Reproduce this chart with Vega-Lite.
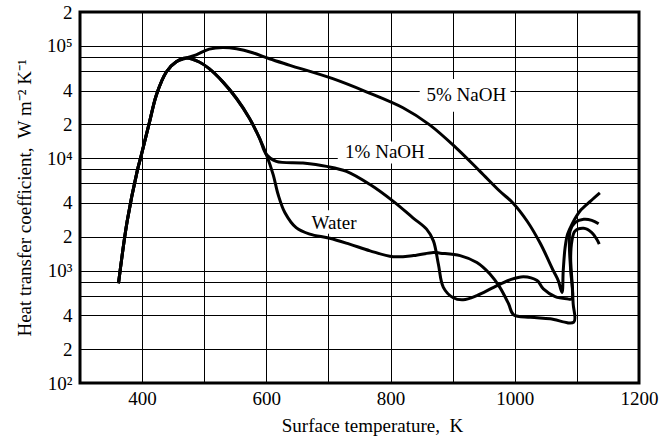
{
  "$schema": "https://vega.github.io/schema/vega-lite/v6.json",
  "width": 559,
  "height": 371,
  "autosize": "none",
  "padding": {"left": 80, "top": 12, "right": 24, "bottom": 54},
  "background": "white",
  "config": {
    "view": {"stroke": "black", "strokeWidth": 3},
    "font": "Liberation Serif"
  },
  "encoding": {
    "x": {
      "field": "T", "type": "quantitative",
      "scale": {"domain": [300, 1200], "nice": false},
      "axis": {
        "values": [300, 400, 500, 600, 700, 800, 900, 1000, 1100, 1200],
        "format": "d",
        "labelExpr": "datum.value % 200 == 0 ? datum.label : ''",
        "grid": true, "gridColor": "black", "gridOpacity": 1, "gridWidth": 1,
        "ticks": false, "domain": false,
        "labelFont": "Liberation Serif", "labelFontSize": 19, "labelColor": "black", "labelPadding": 6,
        "labelFlush": false, "labelOverlap": false,
        "title": "Surface temperature,\u00a0 K",
        "titleFont": "Liberation Serif", "titleFontSize": 19, "titleFontWeight": "normal", "titleColor": "black",
        "titlePadding": 8, "titleX": 292
      }
    },
    "y": {
      "field": "h", "type": "quantitative",
      "scale": {"type": "log", "domain": [100, 200000], "nice": false},
      "axis": {
        "values": [100, 200, 400, 600, 800, 1000, 2000, 4000, 6000, 8000, 10000, 20000, 40000, 60000, 80000, 100000, 200000],
        "labelExpr": "datum.value == 100 ? '10²' : datum.value == 1000 ? '10³' : datum.value == 10000 ? '10⁴' : datum.value == 100000 ? '10⁵' : indexof([200, 2000, 20000, 200000], datum.value) >= 0 ? '2' : indexof([400, 4000, 40000], datum.value) >= 0 ? '4' : ''",
        "grid": true, "gridColor": "black", "gridOpacity": 1, "gridWidth": 1,
        "ticks": false, "domain": false,
        "labelFont": "Liberation Serif", "labelFontSize": 19, "labelColor": "black", "labelPadding": 8,
        "labelFlush": false, "labelOverlap": false,
        "title": "Heat transfer coefficient,\u00a0 W m⁻² K⁻¹",
        "titleFont": "Liberation Serif", "titleFontSize": 19, "titleFontWeight": "normal", "titleColor": "black",
        "titlePadding": 12
      }
    }
  },
  "layer": [
    {
      "data": {"values": [
        {"label": "5% NaOH", "T": 847, "T2": 993, "h": 25900, "h2": 50800},
        {"label": "1% NaOH", "T": 715, "T2": 861, "h": 8990, "h2": 14100},
        {"label": "Water", "T": 670, "T2": 747, "h": 2130, "h2": 3450}
      ]},
      "mark": {"type": "rect", "fill": "white"},
      "encoding": {
        "x2": {"field": "T2"},
        "y2": {"field": "h2"}
      }
    },
    {
      "data": {"values": [
        {"s": "5% NaOH", "i": 1, "T": 362, "h": 771},
        {"s": "5% NaOH", "i": 2, "T": 376, "h": 2760},
        {"s": "5% NaOH", "i": 3, "T": 392, "h": 7640},
        {"s": "5% NaOH", "i": 4, "T": 398, "h": 10300},
        {"s": "5% NaOH", "i": 5, "T": 412, "h": 21100},
        {"s": "5% NaOH", "i": 6, "T": 423, "h": 36600},
        {"s": "5% NaOH", "i": 7, "T": 439, "h": 58500},
        {"s": "5% NaOH", "i": 8, "T": 455, "h": 72000},
        {"s": "5% NaOH", "i": 9, "T": 471, "h": 77800},
        {"s": "5% NaOH", "i": 10, "T": 487, "h": 83200},
        {"s": "5% NaOH", "i": 11, "T": 508, "h": 93500},
        {"s": "5% NaOH", "i": 12, "T": 530, "h": 96800},
        {"s": "5% NaOH", "i": 13, "T": 552, "h": 94200},
        {"s": "5% NaOH", "i": 14, "T": 578, "h": 86800},
        {"s": "5% NaOH", "i": 15, "T": 605, "h": 76700},
        {"s": "5% NaOH", "i": 16, "T": 638, "h": 67100},
        {"s": "5% NaOH", "i": 17, "T": 707, "h": 51000},
        {"s": "5% NaOH", "i": 18, "T": 761, "h": 39000},
        {"s": "5% NaOH", "i": 19, "T": 820, "h": 28100},
        {"s": "5% NaOH", "i": 20, "T": 863, "h": 19800},
        {"s": "5% NaOH", "i": 21, "T": 906, "h": 12300},
        {"s": "5% NaOH", "i": 22, "T": 944, "h": 7640},
        {"s": "5% NaOH", "i": 23, "T": 976, "h": 5080},
        {"s": "5% NaOH", "i": 24, "T": 997, "h": 4000},
        {"s": "5% NaOH", "i": 25, "T": 1020, "h": 2750},
        {"s": "5% NaOH", "i": 26, "T": 1041, "h": 1750},
        {"s": "5% NaOH", "i": 27, "T": 1062, "h": 1000},
        {"s": "5% NaOH", "i": 28, "T": 1070, "h": 815},
        {"s": "5% NaOH", "i": 29, "T": 1076, "h": 640},
        {"s": "5% NaOH", "i": 30, "T": 1078, "h": 998},
        {"s": "5% NaOH", "i": 31, "T": 1081, "h": 1600},
        {"s": "5% NaOH", "i": 32, "T": 1085, "h": 2110},
        {"s": "5% NaOH", "i": 33, "T": 1092, "h": 2580},
        {"s": "5% NaOH", "i": 34, "T": 1105, "h": 3390},
        {"s": "5% NaOH", "i": 35, "T": 1122, "h": 4150},
        {"s": "5% NaOH", "i": 36, "T": 1137, "h": 4910},

        {"s": "1% NaOH", "i": 1, "T": 362, "h": 771},
        {"s": "1% NaOH", "i": 2, "T": 376, "h": 2760},
        {"s": "1% NaOH", "i": 3, "T": 392, "h": 7640},
        {"s": "1% NaOH", "i": 4, "T": 398, "h": 10300},
        {"s": "1% NaOH", "i": 5, "T": 412, "h": 21100},
        {"s": "1% NaOH", "i": 6, "T": 423, "h": 36600},
        {"s": "1% NaOH", "i": 7, "T": 439, "h": 58500},
        {"s": "1% NaOH", "i": 8, "T": 455, "h": 72000},
        {"s": "1% NaOH", "i": 9, "T": 471, "h": 77800},
        {"s": "1% NaOH", "i": 10, "T": 492, "h": 71800},
        {"s": "1% NaOH", "i": 11, "T": 508, "h": 62700},
        {"s": "1% NaOH", "i": 12, "T": 530, "h": 47800},
        {"s": "1% NaOH", "i": 13, "T": 552, "h": 34000},
        {"s": "1% NaOH", "i": 14, "T": 573, "h": 22600},
        {"s": "1% NaOH", "i": 15, "T": 589, "h": 15100},
        {"s": "1% NaOH", "i": 16, "T": 600, "h": 10800},
        {"s": "1% NaOH", "i": 17, "T": 616, "h": 9380},
        {"s": "1% NaOH", "i": 18, "T": 659, "h": 9060},
        {"s": "1% NaOH", "i": 19, "T": 697, "h": 8460},
        {"s": "1% NaOH", "i": 20, "T": 729, "h": 7640},
        {"s": "1% NaOH", "i": 21, "T": 767, "h": 5830},
        {"s": "1% NaOH", "i": 22, "T": 804, "h": 4150},
        {"s": "1% NaOH", "i": 23, "T": 836, "h": 2950},
        {"s": "1% NaOH", "i": 24, "T": 858, "h": 2340},
        {"s": "1% NaOH", "i": 25, "T": 869, "h": 1840},
        {"s": "1% NaOH", "i": 26, "T": 877, "h": 1140},
        {"s": "1% NaOH", "i": 27, "T": 885, "h": 710},
        {"s": "1% NaOH", "i": 28, "T": 901, "h": 573},
        {"s": "1% NaOH", "i": 29, "T": 917, "h": 550},
        {"s": "1% NaOH", "i": 30, "T": 939, "h": 600},
        {"s": "1% NaOH", "i": 31, "T": 966, "h": 710},
        {"s": "1% NaOH", "i": 32, "T": 992, "h": 826},
        {"s": "1% NaOH", "i": 33, "T": 1014, "h": 883},
        {"s": "1% NaOH", "i": 34, "T": 1036, "h": 815},
        {"s": "1% NaOH", "i": 35, "T": 1046, "h": 687},
        {"s": "1% NaOH", "i": 36, "T": 1065, "h": 587},
        {"s": "1% NaOH", "i": 37, "T": 1084, "h": 561},
        {"s": "1% NaOH", "i": 38, "T": 1092, "h": 561},
        {"s": "1% NaOH", "i": 39, "T": 1090, "h": 998},
        {"s": "1% NaOH", "i": 40, "T": 1088, "h": 1600},
        {"s": "1% NaOH", "i": 41, "T": 1089, "h": 2250},
        {"s": "1% NaOH", "i": 42, "T": 1097, "h": 2670},
        {"s": "1% NaOH", "i": 43, "T": 1111, "h": 2860},
        {"s": "1% NaOH", "i": 44, "T": 1124, "h": 2800},
        {"s": "1% NaOH", "i": 45, "T": 1135, "h": 2610},

        {"s": "Water", "i": 1, "T": 362, "h": 771},
        {"s": "Water", "i": 2, "T": 376, "h": 2760},
        {"s": "Water", "i": 3, "T": 392, "h": 7640},
        {"s": "Water", "i": 4, "T": 398, "h": 10300},
        {"s": "Water", "i": 5, "T": 412, "h": 21100},
        {"s": "Water", "i": 6, "T": 423, "h": 36600},
        {"s": "Water", "i": 7, "T": 439, "h": 58500},
        {"s": "Water", "i": 8, "T": 455, "h": 72000},
        {"s": "Water", "i": 9, "T": 471, "h": 77800},
        {"s": "Water", "i": 10, "T": 492, "h": 71800},
        {"s": "Water", "i": 11, "T": 508, "h": 62700},
        {"s": "Water", "i": 12, "T": 530, "h": 47800},
        {"s": "Water", "i": 13, "T": 552, "h": 34000},
        {"s": "Water", "i": 14, "T": 573, "h": 22600},
        {"s": "Water", "i": 15, "T": 589, "h": 15100},
        {"s": "Water", "i": 16, "T": 600, "h": 10800},
        {"s": "Water", "i": 17, "T": 611, "h": 7150},
        {"s": "Water", "i": 18, "T": 619, "h": 4750},
        {"s": "Water", "i": 19, "T": 630, "h": 3270},
        {"s": "Water", "i": 20, "T": 648, "h": 2410},
        {"s": "Water", "i": 21, "T": 670, "h": 2110},
        {"s": "Water", "i": 22, "T": 702, "h": 1940},
        {"s": "Water", "i": 23, "T": 734, "h": 1720},
        {"s": "Water", "i": 24, "T": 767, "h": 1500},
        {"s": "Water", "i": 25, "T": 804, "h": 1330},
        {"s": "Water", "i": 26, "T": 837, "h": 1360},
        {"s": "Water", "i": 27, "T": 869, "h": 1450},
        {"s": "Water", "i": 28, "T": 880, "h": 1430},
        {"s": "Water", "i": 29, "T": 912, "h": 1360},
        {"s": "Water", "i": 30, "T": 939, "h": 1180},
        {"s": "Water", "i": 31, "T": 960, "h": 933},
        {"s": "Water", "i": 32, "T": 976, "h": 710},
        {"s": "Water", "i": 33, "T": 990, "h": 507},
        {"s": "Water", "i": 34, "T": 998, "h": 405},
        {"s": "Water", "i": 35, "T": 1025, "h": 385},
        {"s": "Water", "i": 36, "T": 1057, "h": 373},
        {"s": "Water", "i": 37, "T": 1095, "h": 348},
        {"s": "Water", "i": 38, "T": 1094, "h": 507},
        {"s": "Water", "i": 39, "T": 1092, "h": 815},
        {"s": "Water", "i": 40, "T": 1090, "h": 1310},
        {"s": "Water", "i": 41, "T": 1092, "h": 1840},
        {"s": "Water", "i": 42, "T": 1097, "h": 2250},
        {"s": "Water", "i": 43, "T": 1111, "h": 2380},
        {"s": "Water", "i": 44, "T": 1124, "h": 2180},
        {"s": "Water", "i": 45, "T": 1132, "h": 1900},
        {"s": "Water", "i": 46, "T": 1136, "h": 1720}
      ]},
      "mark": {"type": "line", "color": "black", "strokeWidth": 3, "interpolate": "catmull-rom"},
      "encoding": {
        "detail": {"field": "s", "type": "nominal"},
        "order": {"field": "i", "type": "quantitative"}
      }
    },
    {
      "data": {"values": [
        {"label": "5% NaOH", "T": 922, "h": 36400},
        {"label": "1% NaOH", "T": 791, "h": 11300},
        {"label": "Water", "T": 709, "h": 2670}
      ]},
      "mark": {"type": "text", "font": "Liberation Serif", "fontSize": 19, "color": "black", "align": "center", "baseline": "middle"},
      "encoding": {
        "text": {"field": "label", "type": "nominal"}
      }
    }
  ]
}
